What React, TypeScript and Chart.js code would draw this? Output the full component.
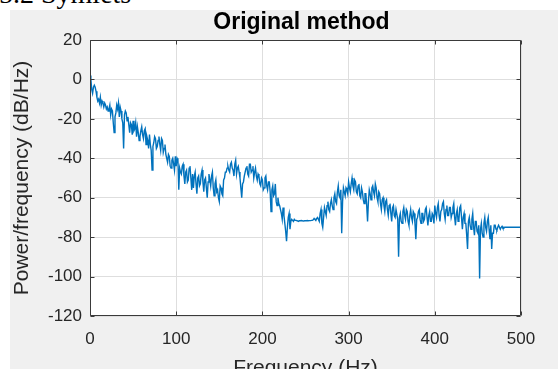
import { useEffect, useRef } from "react";
import { Chart, registerables } from "chart.js";

Chart.register(...registerables);

// Welch PSD estimate, one value per 1 Hz bin from 0 to 500 Hz (dB/Hz)
const BIN_HZ = 1;
const powerDb: number[] = [
  2, 0, -5, -7, -4, -3, -4, -6, -9, -11, -10, -12, -9, -13, -11, -12, -14, -12, -13, -15,
  -14, -16, -15, -13, -18, -15, -16, -22, -27, -19, -17, -13, -15, -12, -19, -14, -16, -20, -22, -35,
  -18, -16, -17, -21, -19, -23, -27, -22, -23, -28, -21, -26, -25, -22, -29, -24, -27, -31, -29, -26,
  -24, -28, -30, -26, -25, -33, -29, -31, -35, -28, -33, -36, -46, -34, -32, -29, -30, -35, -34, -31,
  -29, -33, -36, -30, -31, -37, -35, -33, -38, -40, -42, -38, -39, -44, -45, -41, -40, -43, -46, -39,
  -44, -40, -41, -56, -45, -47, -48, -44, -43, -49, -53, -47, -46, -52, -51, -45, -44, -50, -56, -48,
  -55, -49, -47, -53, -58, -50, -49, -54, -53, -48, -46, -52, -57, -51, -50, -55, -60, -52, -48, -51,
  -54, -49, -47, -55, -59, -53, -51, -57, -56, -60, -62, -54, -55, -58, -59, -51, -50, -47, -47, -45,
  -44, -46, -47, -43, -42, -45, -46, -49, -43, -41, -48, -45, -44, -47, -50, -55, -60, -53, -52, -49,
  -47, -45, -44, -48, -49, -43, -43, -47, -46, -44, -50, -47, -45, -49, -51, -48, -49, -53, -54, -50,
  -51, -56, -55, -50, -49, -54, -56, -52, -52, -57, -67, -56, -54, -59, -58, -53, -62, -64, -60, -63,
  -64, -66, -68, -71, -65, -69, -73, -77, -82, -75, -70, -68, -76, -72, -71, -71.5, -72, -71, -71.5, -71.5,
  -71.5, -71.8, -72, -71.7, -71.7, -71.6, -71.7, -71.8, -71.8, -71.7, -71.7, -71.7, -71.6, -71.7, -71.7, -71.6, -71.6, -71.5, -71.5, -71.2,
  -70.5, -71, -71.5, -70.5, -70, -71, -72, -68, -66, -73, -75, -70, -65, -67, -69, -64, -62, -66, -67, -63,
  -61, -64, -66, -60, -58, -62, -63, -57, -54, -59, -60, -56, -78, -62, -55, -57, -59, -55, -56, -58,
  -52, -55, -57, -53, -50, -54, -56, -51, -52, -57, -58, -54, -53, -59, -60, -55, -57, -61, -63, -58,
  -58, -64, -72, -62, -56, -58, -61, -55, -54, -57, -59, -53, -55, -60, -62, -57, -58, -63, -66, -61,
  -60, -64, -67, -62, -61, -66, -69, -64, -63, -68, -72, -65, -64, -69, -70, -66, -66, -71, -90, -70,
  -68, -72, -73, -67, -65, -69, -71, -66, -67, -72, -74, -69, -66, -70, -72, -67, -68, -73, -81, -71,
  -70, -67, -66, -71, -73, -68, -68, -72, -71, -66, -65, -70, -74, -69, -67, -72, -72, -68, -69, -73,
  -64, -68, -70, -65, -63, -69, -72, -67, -66, -63, -62, -68, -71, -66, -64, -69, -69, -65, -65, -70,
  -68, -65, -63, -70, -74, -68, -66, -72, -71, -65, -64, -70, -76, -70, -68, -73, -73, -79, -86, -72,
  -70, -74, -76, -71, -68, -75, -79, -72, -72, -77, -78, -74, -101, -76, -73, -78, -80, -73, -70, -75,
  -77, -72, -70, -76, -81, -74, -86, -78, -78, -74, -74, -76, -76.5, -75, -74, -75, -76, -75, -74.5, -75.5,
  -75.5, -75, -75, -75, -75, -75, -75, -75, -75, -75, -75, -75, -75, -75, -75, -75, -75, -75, -75, -75,
  -75,
];

const xTickValues = [0, 100, 200, 300, 400, 500];
const yTickValues = [20, 0, -20, -40, -60, -80, -100, -120];

const heading = "5.2 Symlets";
const plotTitle = "Original method";
const xLabel = "Frequency (Hz)";
const yLabel = "Power/frequency (dB/Hz)";

const SANS = "'Liberation Sans', Arial, Helvetica, sans-serif";
const TEXT = "#262626";
const LINE = "#0072BD";

// Grey figure panel, white axes, dark box with inward ticks on all four sides,
// and the bold title centred over the axes
const matlabFrame = {
  id: "matlabFrame",
  beforeDraw(chart: any) {
    const { ctx, chartArea: a, width, height } = chart;
    ctx.save();
    ctx.fillStyle = "#f0f0f0";
    ctx.fillRect(10, 10, width - 10, height - 10);
    ctx.fillStyle = "#ffffff";
    ctx.fillRect(a.left, a.top, a.right - a.left, a.bottom - a.top);
    ctx.restore();
  },
  afterDatasetsDraw(chart: any) {
    const { ctx, chartArea: a, scales } = chart;
    const L = a.left + 0.5;
    const R = a.right - 0.5;
    const T = a.top + 0.5;
    const B = a.bottom - 0.5;
    const len = 4;
    ctx.save();
    ctx.strokeStyle = "#3a3a3a";
    ctx.lineWidth = 1;
    ctx.beginPath();
    ctx.rect(L, T, R - L, B - T);
    for (const v of xTickValues) {
      const px = Math.round(scales.x.getPixelForValue(v)) + 0.5;
      ctx.moveTo(px, B);
      ctx.lineTo(px, B - len);
      ctx.moveTo(px, T);
      ctx.lineTo(px, T + len);
    }
    for (const v of yTickValues) {
      const py = Math.round(scales.y.getPixelForValue(v)) + 0.5;
      ctx.moveTo(L, py);
      ctx.lineTo(L + len, py);
      ctx.moveTo(R, py);
      ctx.lineTo(R - len, py);
    }
    ctx.stroke();

    ctx.fillStyle = "#000000";
    ctx.font = `bold 23px ${SANS}`;
    ctx.textAlign = "center";
    ctx.textBaseline = "middle";
    ctx.fillText(plotTitle, (a.left + a.right) / 2 - 4, 23);
    ctx.restore();
  },
};

export default function App() {
  const canvasRef = useRef<HTMLCanvasElement | null>(null);

  useEffect(() => {
    const canvas = canvasRef.current;
    if (!canvas) return;
    const points = powerDb.map((p, i) => ({ x: i * BIN_HZ, y: p }));

    const chart = new Chart(canvas, {
      type: "line",
      data: {
        datasets: [
          {
            data: points,
            borderColor: LINE,
            borderWidth: 1.4,
            pointRadius: 0,
            tension: 0,
            fill: false,
          },
        ],
      },
      plugins: [matlabFrame],
      options: {
        animation: false,
        responsive: false,
        maintainAspectRatio: false,
        devicePixelRatio: 1,
        events: [],
        layout: { padding: { left: 0, right: 37, top: 40, bottom: 0 } },
        plugins: {
          legend: { display: false },
          tooltip: { enabled: false },
          title: { display: false },
        },
        scales: {
          x: {
            type: "linear",
            min: 0,
            max: 500,
            afterFit: (s: any) => {
              s.height = 53;
            },
            afterBuildTicks: (s: any) => {
              s.ticks = xTickValues.map((v) => ({ value: v }));
            },
            border: { display: false },
            grid: { color: "#dedede", lineWidth: 1, drawTicks: false },
            ticks: {
              color: TEXT,
              font: { family: SANS, size: 17 },
              padding: 13,
              maxRotation: 0,
              autoSkip: false,
            },
            title: {
              display: true,
              text: xLabel,
              color: TEXT,
              font: { family: SANS, size: 21 },
              padding: { top: 0, bottom: -12 },
            },
          },
          y: {
            type: "linear",
            min: -120,
            max: 20,
            afterFit: (s: any) => {
              s.width = 90;
            },
            afterBuildTicks: (s: any) => {
              s.ticks = yTickValues.map((v) => ({ value: v }));
            },
            border: { display: false },
            grid: { color: "#dedede", lineWidth: 1, drawTicks: false },
            ticks: {
              color: TEXT,
              font: { family: SANS, size: 17 },
              padding: 8,
              autoSkip: false,
            },
            title: {
              display: true,
              text: yLabel,
              color: TEXT,
              font: { family: SANS, size: 21 },
              padding: { top: 10, bottom: 0 },
            },
          },
        },
      },
    });

    return () => chart.destroy();
  }, []);

  return (
    <div
      style={{
        position: "absolute",
        left: 0,
        top: 0,
        width: 558,
        height: 369,
        overflow: "hidden",
        background: "#ffffff",
      }}
    >
      <div
        style={{
          position: "absolute",
          left: -1,
          top: -20,
          fontFamily: "'Liberation Serif', 'Times New Roman', serif",
          fontSize: 28,
          lineHeight: "28px",
          color: "#000000",
          whiteSpace: "nowrap",
        }}
      >
        {heading}
      </div>
      <canvas
        ref={canvasRef}
        width={558}
        height={369}
        style={{ position: "absolute", left: 0, top: 0, width: 558, height: 369 }}
      />
    </div>
  );
}
